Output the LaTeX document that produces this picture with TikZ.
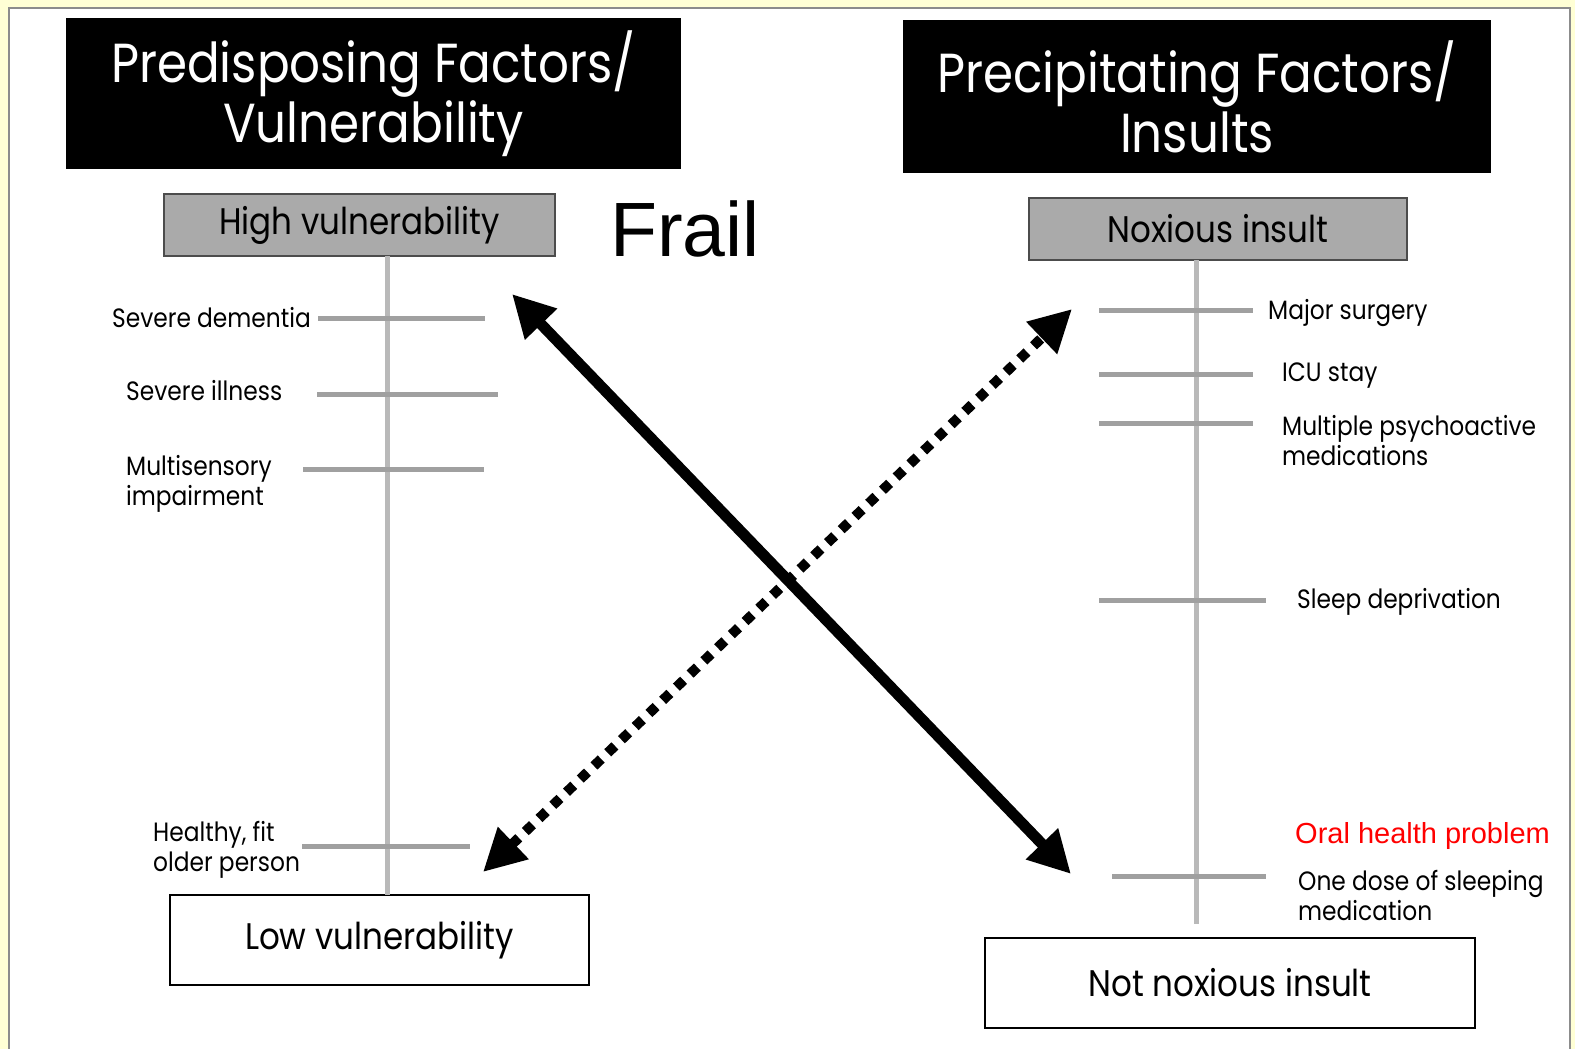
\documentclass[tikz,border=0pt]{standalone}
\usepackage{fontspec}
\setmainfont{Poppins}[FakeStretch=0.88]
\newfontfamily\arialfont{Liberation Sans}
\usetikzlibrary{arrows.meta}
\definecolor{pagebg}{RGB}{255,255,213}
\definecolor{framegray}{RGB}{140,140,140}
\definecolor{scalegray}{RGB}{160,160,160}
\definecolor{axisgray}{RGB}{185,185,185}
\definecolor{boxgray}{RGB}{170,170,170}

\begin{document}
\begin{tikzpicture}[x=1pt, y=-1pt,
		titlebox/.style={fill=black, text=white, align=center, inner sep=0pt, font=\fontsize{55}{60}\selectfont},
		greybox/.style={draw=black!70, line width=2pt, fill=boxgray, inner sep=0pt, minimum height=62pt, font=\fontsize{37}{40}\selectfont},
		whitebox/.style={draw=black, line width=2.5pt, fill=white, inner sep=0pt, minimum height=90pt, font=\fontsize{37}{40}\selectfont},
		scaletick/.style={fill=scalegray, inner sep=0pt, minimum height=5pt},
		scaleaxis/.style={draw=axisgray, line width=5pt},
		factor/.style={inner sep=0pt, align=left, font=\fontsize{26.5}{30}\selectfont},
		bigarrow/.style={line width=11pt, {Triangle[length=42pt, width=42pt]}-{Triangle[length=42pt, width=42pt]}},
		dotarrow/.style={line width=10pt, dash pattern=on 10pt off 9pt}]
	\useasboundingbox (0, 0) rectangle (1575, 1049);
	\fill[pagebg] (0, 0) rectangle (1575, 1049);
	\fill[white] (9, 8) rectangle (1570, 1049);
	\draw[framegray, line width=2pt] (9, 1049) -- (9, 8) -- (1570, 8) -- (1570, 1049);

	% headers
	\node[titlebox, minimum width=615pt, minimum height=151pt] at (373.5, 93.5) (predisp) {Predisposing Factors/\\Vulnerability};
	\node[titlebox, minimum width=588pt, minimum height=153pt] at (1197, 96.5) (precip) {Precipitating Factors/\\Insults};
	\node[anchor=base west, inner sep=0pt, font=\arialfont\fontsize{77}{80}\selectfont] at (610, 256) (frail) {Frail};

	% left scale
	\node[greybox, minimum width=391pt] at (359.5, 225) (hv) {High vulnerability};
	\node[whitebox, minimum width=419pt] at (379.5, 940) (lv) {Low vulnerability};
	\coordinate (l-top) at (387, 256);
	\coordinate (l-bot) at (387, 895);
	\draw[scaleaxis] (l-top) -- (l-bot);
	\node[scaletick, minimum width=167pt] at (401.5, 318) (t-dementia) {};
	\node[scaletick, minimum width=181pt] at (407.5, 394) (t-illness) {};
	\node[scaletick, minimum width=181pt] at (393.5, 469) (t-sensory) {};
	\node[scaletick, minimum width=168pt] at (386, 846) (t-healthy) {};
	\node[factor, anchor=base east] at (311, 327) (dementia) {Severe dementia};
	\node[factor, anchor=base west] at (126, 400) (illness) {Severe illness};
	\node[factor, anchor=west] at (126, 484) (sensory) {Multisensory\\impairment};
	\node[factor, anchor=west] at (153, 850) (healthy) {Healthy, fit\\older person};

	% right scale
	\node[greybox, minimum width=378pt] at (1218, 229) (ni) {Noxious insult};
	\node[whitebox, minimum width=490pt] at (1230, 983) (nni) {Not noxious insult};
	\coordinate (r-top) at (1196, 260);
	\coordinate (r-bot) at (1196, 924);
	\draw[scaleaxis] (r-top) -- (r-bot);
	\node[scaletick, minimum width=154pt] at (1176, 310) (t-surgery) {};
	\node[scaletick, minimum width=154pt] at (1176, 374) (t-icu) {};
	\node[scaletick, minimum width=154pt] at (1176, 423) (t-psycho) {};
	\node[scaletick, minimum width=167pt] at (1182.5, 600) (t-sleep) {};
	\node[scaletick, minimum width=154pt] at (1189, 876) (t-dose) {};
	\node[factor, anchor=base west] at (1268, 319) (surgery) {Major surgery};
	\node[factor, anchor=base west] at (1282, 381) (icu) {ICU stay};
	\node[factor, anchor=west] at (1282, 441) (psycho) {Multiple psychoactive\\medications};
	\node[factor, anchor=base west] at (1297, 608) (sleep) {Sleep deprivation};
	\node[anchor=base west, inner sep=0pt, text=red, font=\arialfont\fontsize{29}{32}\selectfont] at (1295, 843) (oral) {Oral health problem};
	\node[factor, anchor=west] at (1298, 895) (dose) {One dose of sleeping\\medication};

	% crossing arrows
	\coordinate (dot-lo) at (483, 872);
	\coordinate (dot-hi) at (1072, 309);
	\coordinate (solid-hi) at (512, 294);
	\coordinate (solid-lo) at (1071, 874);
	\path
	(dot-lo) edge[bigarrow, dotarrow] (dot-hi)
	(solid-hi) edge[bigarrow] (solid-lo);
\end{tikzpicture}
\end{document}
